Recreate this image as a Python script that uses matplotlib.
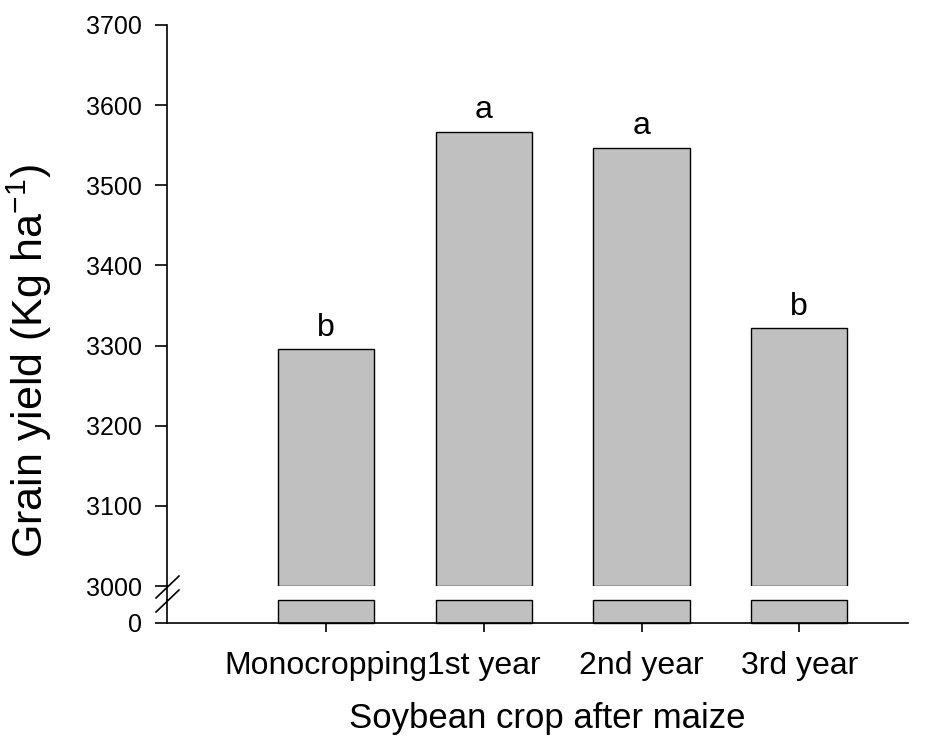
import numpy as np
import matplotlib.pyplot as plt
from matplotlib.lines import Line2D

plt.rcParams['font.family'] = ['Liberation Sans', 'DejaVu Sans']
plt.rcParams['mathtext.fontset'] = 'custom'
plt.rcParams['mathtext.rm'] = 'Liberation Sans'

# data
categories = ["Monocropping", "1st year", "2nd year", "3rd year"]
yields = np.array([3296, 3567, 3547, 3322])
letters = ["b", "a", "a", "b"]
upper_ticks = [3000, 3100, 3200, 3300, 3400, 3500, 3600, 3700]

W, H = 952, 737
fig = plt.figure(figsize=(W / 100, H / 100), dpi=100)

def px_axes(left, top, right, bottom):
    return fig.add_axes([left / W, 1 - bottom / H, (right - left) / W, (bottom - top) / H])

x = np.arange(len(categories))
xlim = (-1.01, 3.69)
bar_w = 0.61

# upper segment of the broken axis (3000-3700)
ax = px_axes(167, 25, 908, 586)
ax.bar(x, yields - 3000, bottom=3000, width=bar_w, color="#c0c0c0",
       edgecolor="black", linewidth=1.0)
ax.set_xlim(*xlim)
ax.set_ylim(3000, 3700)
ax.set_yticks(upper_ticks)
ax.set_xticks([])
for s in ["top", "right", "bottom"]:
    ax.spines[s].set_visible(False)
ax.spines["left"].set_linewidth(1.2)
ax.tick_params(axis="y", length=9, width=1.2, labelsize=18, pad=9)
for xi, v, lt in zip(x, yields, letters):
    ax.annotate(lt, (xi, v), xytext=(0, 9.5), textcoords="offset points",
                ha="center", va="baseline", fontsize=23)
ax.set_ylabel("Grain yield (Kg ha$^{\\mathrm{-1}}$)", fontsize=31)
ax.yaxis.set_label_coords(-0.153, 0.40)

# lower segment (0 up to the break)
lower_top = 29
ax2 = px_axes(167, 600, 908, 623)
ax2.bar(x, np.minimum(yields, lower_top), width=bar_w, color="#c0c0c0",
        edgecolor="black", linewidth=1.0, clip_on=False)
ax2.set_xlim(*xlim)
ax2.set_ylim(0, lower_top)
ax2.set_yticks([0])
ax2.set_xticks(x)
ax2.set_xticklabels(categories)
for s in ["top", "right"]:
    ax2.spines[s].set_visible(False)
ax2.spines["left"].set_linewidth(1.2)
ax2.spines["bottom"].set_linewidth(1.2)
ax2.tick_params(axis="y", length=9, width=1.2, labelsize=18, pad=9)
ax2.tick_params(axis="x", length=6.5, width=1.2, labelsize=23, pad=14)
ax2.set_xlabel("Soybean crop after maize", fontsize=25)
ax2.xaxis.set_label_coords(0.5135, -3.45)

# spine through the gap and break marks
fig.add_artist(Line2D([167 / W, 167 / W], [1 - 586 / H, 1 - 600 / H],
                      color="black", lw=1.2, transform=fig.transFigure))
for y0 in (598, 612):
    fig.add_artist(Line2D([156 / W, 179 / W], [1 - y0 / H, 1 - (y0 - 22) / H],
                          color="black", lw=1.2, transform=fig.transFigure))

fig.savefig("out.png", dpi=100)
